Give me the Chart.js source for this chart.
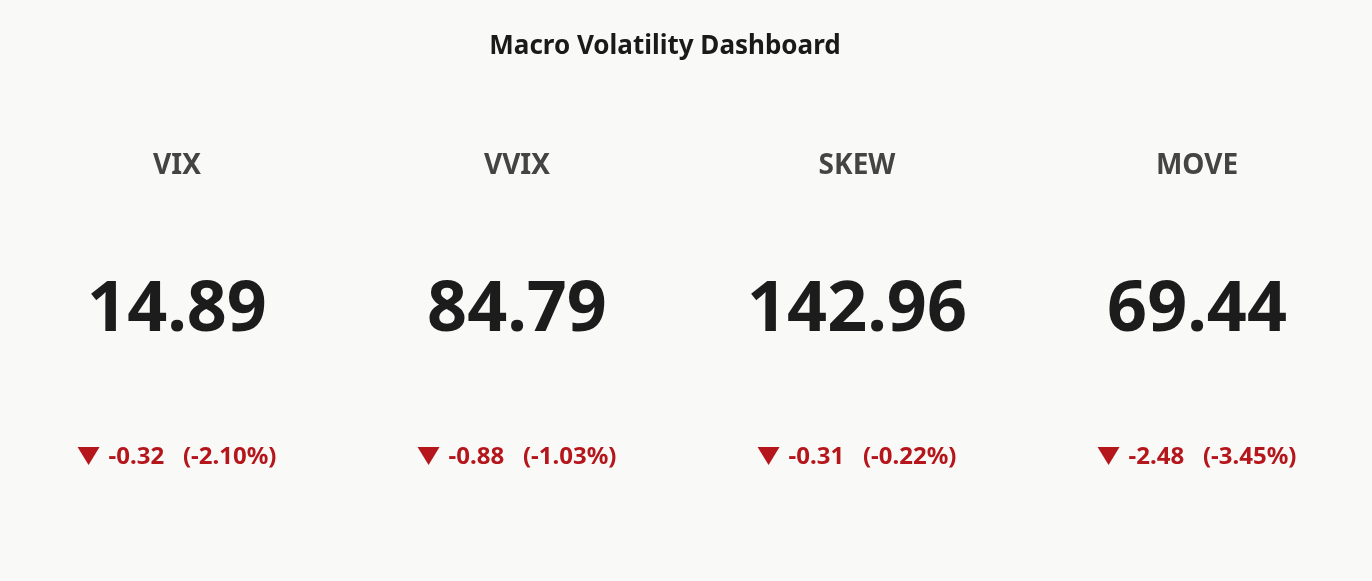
<!DOCTYPE html>
<html><head><meta charset="utf-8">
<script src="https://cdn.jsdelivr.net/npm/chart.js@4"></script>
<style>html,body{margin:0;padding:0;background:#f9f9f7;}#wrap{width:1372px;height:581px;}</style>
</head><body><div id="wrap"><canvas id="c"></canvas></div>
<script>
const labels = ["VIX", "VVIX", "SKEW", "MOVE"];
const values = [14.89, 84.79, 142.96, 69.44];
const changes = [-0.32, -0.88, -0.31, -2.48];
const pctChanges = [-2.10, -1.03, -0.22, -3.45];
const titleText = 'Macro Volatility Dashboard';

const font = "'Noto Sans', 'Open Sans', sans-serif";
const kpiPlugin = {
  id: 'kpi',
  afterDraw(chart) {
    const ctx = chart.ctx, xs = chart.scales.x;
    ctx.save();
    ctx.textAlign = 'center'; ctx.textBaseline = 'middle';
    ctx.fillStyle = '#1a1a1a';
    ctx.font = `bold 26px ${font}`;
    ctx.fillText(titleText, 665, 47);
    labels.forEach((l, i) => {
      const x = xs.getPixelForValue(i);
      ctx.textAlign = 'center';
      ctx.fillStyle = '#444444';
      ctx.font = `bold 28px ${font}`;
      ctx.fillText(l, x, 166);
      ctx.fillStyle = '#1c1c1c';
      ctx.font = `bold 70px ${font}`;
      ctx.fillText(values[i].toFixed(2), x, 311);
      const col = changes[i] < 0 ? '#b5161b' : '#1b7f3b';
      ctx.fillStyle = col;
      ctx.font = `bold 24px ${font}`;
      const s = (changes[i] > 0 ? '+' : '') + changes[i].toFixed(2);
      const p = (pctChanges[i] > 0 ? '+' : '') + pctChanges[i].toFixed(2) + '%';
      const txt = `${s}   (${p})`;
      const tw = ctx.measureText(txt).width;
      const triW = 22, gap = 9;
      const total = triW + gap + tw;
      const x0 = x - total / 2;
      ctx.beginPath();
      if (changes[i] < 0) {
        ctx.moveTo(x0, 447); ctx.lineTo(x0 + triW, 447); ctx.lineTo(x0 + triW / 2, 465);
      } else {
        ctx.moveTo(x0, 465); ctx.lineTo(x0 + triW, 465); ctx.lineTo(x0 + triW / 2, 447);
      }
      ctx.closePath(); ctx.fill();
      ctx.textAlign = 'left';
      ctx.fillText(txt, x0 + triW + gap, 457);
    });
    ctx.restore();
  }
};

new Chart(document.getElementById('c'), {
  type: 'bar',
  data: { labels, datasets: [{ data: values.map(() => null) }] },
  options: {
    responsive: true, maintainAspectRatio: false, animation: false,
    layout: { padding: { left: 7, right: 5, top: 0, bottom: 0 } },
    plugins: { legend: { display: false }, tooltip: { enabled: false }, title: { display: false } },
    scales: { x: { display: false }, y: { display: false } }
  },
  plugins: [kpiPlugin]
});
</script></body></html>
